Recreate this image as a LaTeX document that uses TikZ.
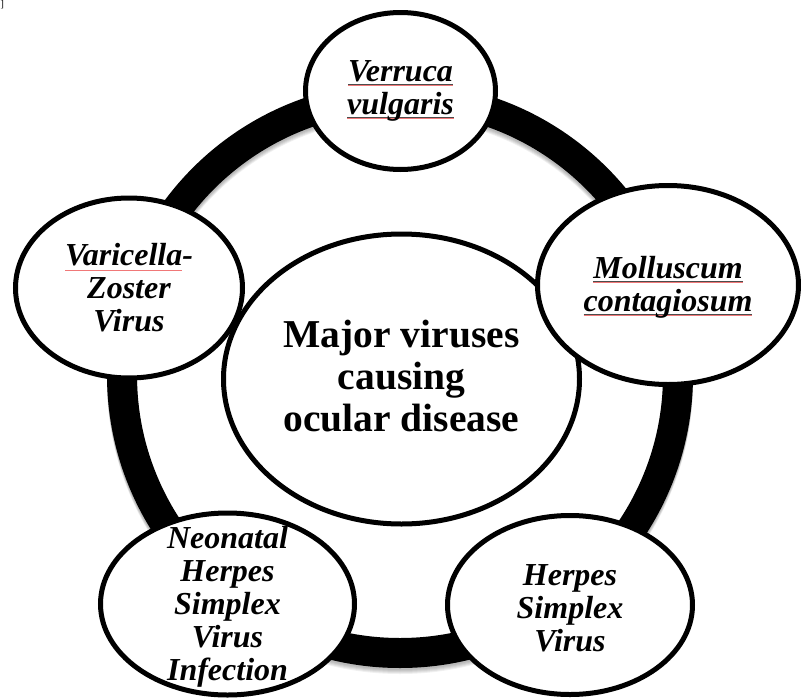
\documentclass[tikz,border=0pt]{standalone}
\usepackage{fontspec}
\setmainfont{Liberation Serif}
\usetikzlibrary{shapes.geometric}
\definecolor{spellred}{RGB}{240,120,120}
\newcommand\redul[1]{\setbox0\hbox{#1}\rlap{\color{spellred}\rule[-4.5pt]{\wd0}{0.8pt}}\box0}
\newcommand\bothul[1]{\setbox0\hbox{#1}\rlap{\color{black!70}\rule[-3pt]{\wd0}{0.45pt}}\rlap{\color{spellred}\rule[-4.4pt]{\wd0}{0.8pt}}\box0}
\tikzset{
  ringline/.style={line width=30pt, draw=black},
  bubble/.style={ellipse, draw=black, line width=5pt, fill=white, inner sep=0pt, outer sep=0pt},
  bubbletext/.style={align=center, inner sep=0pt, font=\fontsize{32}{33}\selectfont\bfseries\itshape},
  hubtext/.style={align=center, inner sep=0pt, font=\fontsize{39.5}{42}\selectfont\bfseries},
}
\begin{document}
\begin{tikzpicture}[x=1pt,y=-1pt]
\useasboundingbox (0,0) rectangle (801,699);
\fill[white] (0,0) rectangle (801,699);
\coordinate (ringc) at (400,375);
% soft shadow of the ring
\foreach \d in {2,3,4,5,6}
  \draw[line width=30pt, black, opacity=0.06] ([yshift=-\d pt]ringc) circle[radius=278];
\draw[ringline] (ringc) circle[radius=278];
% centre
\node[bubble, minimum width=356pt, minimum height=290pt] (hub) at (401.5,379) {};
\node[hubtext] (hubt) at ([yshift=3pt]hub.center) {Major viruses\\causing\\ocular disease};
% satellites
\node[bubble, minimum width=190pt, minimum height=157pt] (verruca) at (400.5,91) {};
\node[bubbletext] (verrucat) at ([yshift=0pt]verruca.center) {\bothul{Verruca}\\\bothul{vulgaris}};
\node[bubble, minimum width=261pt, minimum height=199pt] (mollus) at (668,285) {};
\node[bubbletext] (mollust) at ([yshift=-2pt]mollus.center) {\bothul{Molluscum}\\\bothul{contagiosum}};
\node[bubble, minimum width=245pt, minimum height=179pt] (herpes) at (570,605) {};
\node[bubbletext] (herpest) at ([yshift=-3pt]herpes.center) {Herpes\\Simplex\\Virus};
\node[bubble, minimum width=254pt, minimum height=182pt] (neonatal) at (227.5,604) {};
\node[bubbletext] (neonatalt) at ([yshift=-3pt]neonatal.center) {Neonatal\\Herpes\\Simplex\\Virus\\Infection};
\node[bubble, minimum width=227pt, minimum height=180pt] (varicella) at (129,288) {};
\node[bubbletext] (varicellat) at ([yshift=0pt]varicella.center) {\redul{Varicella}-\\Zoster\\Virus};
% stray bracket at top-left corner
\node[anchor=north west, inner sep=0pt, font=\fontsize{10}{10}\selectfont] (brk) at (0.5,0.5) {]};
\end{tikzpicture}
\end{document}
